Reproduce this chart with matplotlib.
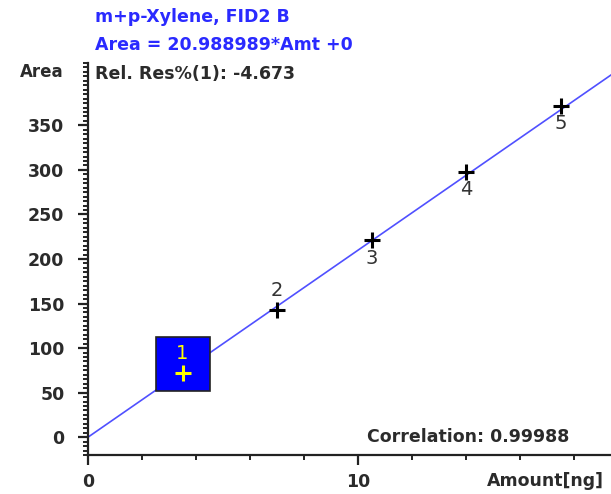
import matplotlib.pyplot as plt
from matplotlib.patches import Rectangle
from matplotlib.ticker import MultipleLocator

# calibration levels for m+p-Xylene
level = ["1", "2", "3", "4", "5"]
amount = [3.5, 7.0, 10.5, 14.0, 17.5]
area = [72.0, 143.0, 221.0, 298.0, 372.0]
slope = 20.988989
intercept = 0.0

compound = "m+p-Xylene, FID2 B"
rel_res = -4.673
correlation = 0.99988

txt = "#2b2b2b"
blue = "#2a2aff"
plt.rcParams["font.family"] = ["DejaVu Sans"]

fig = plt.figure(figsize=(6.11, 4.94), dpi=100)
ax = fig.add_axes([88 / 611, 1 - 455 / 494, 1 - 88 / 611, (455 - 63) / 494])
ax.set_xlim(0, 19.37)
ax.set_ylim(-20, 420)

# fitted line across the full x range
x0, x1 = ax.get_xlim()
ax.plot([x0, x1], [slope * x0 + intercept, slope * x1 + intercept],
        color="#5050ff", lw=1.2, zorder=2)

# selected level 1 highlighted with a blue box
sel = 0
ax.add_patch(Rectangle((amount[sel] - 1.0, area[sel] - 20), 2.0, 60,
                       facecolor="#0000ff", edgecolor="#222222", lw=1.2, zorder=3))

for i, (x, y) in enumerate(zip(amount, area)):
    col = "#ffff00" if i == sel else "black"
    ax.plot(x, y, marker="+", ms=12, mew=2.2, color=col, zorder=4)
    if i < 2:
        ax.annotate(level[i], (x, y), xytext=(0, 7), textcoords="offset points",
                    ha="center", va="bottom", fontsize=14, color=col if i == sel else "#333333", zorder=5)
    else:
        ax.annotate(level[i], (x, y), xytext=(0, -6), textcoords="offset points",
                    ha="center", va="top", fontsize=14, color="#333333", zorder=5)

for s in ["top", "right"]:
    ax.spines[s].set_visible(False)
for s in ["left", "bottom"]:
    ax.spines[s].set_linewidth(1.6)
    ax.spines[s].set_color("#222222")

ax.xaxis.set_major_locator(MultipleLocator(10))
ax.xaxis.set_minor_locator(MultipleLocator(2))
ax.yaxis.set_major_locator(MultipleLocator(50))
ax.yaxis.set_minor_locator(MultipleLocator(5))
ax.set_yticks(range(0, 351, 50))
ax.tick_params(which="major", length=7, width=1.6, color="#222222",
               labelsize=12.5, labelcolor=txt)
ax.tick_params(axis="y", which="major", pad=10)
ax.tick_params(axis="x", which="major", pad=6)
ax.tick_params(which="minor", length=3.5, width=1.4, color="#222222")
for lab in ax.get_xticklabels() + ax.get_yticklabels():
    lab.set_fontweight("bold")

fig.text(20 / 611, 1 - 72 / 494, "Area", fontsize=12, fontweight="bold",
         color=txt, va="center", ha="left")
fig.text(487 / 611, 1 - 481 / 494, "Amount[ng]", fontsize=12.5, fontweight="bold",
         color=txt, va="center", ha="left")

fig.text(95 / 611, 1 - 17 / 494, compound, fontsize=12.5, fontweight="bold",
         color=blue, va="center", ha="left")
fig.text(95 / 611, 1 - 45 / 494, f"Area = {slope:.6f}*Amt +{intercept:g}", fontsize=12.5,
         fontweight="bold", color=blue, va="center", ha="left")
fig.text(95 / 611, 1 - 74 / 494, f"Rel. Res%(1): {rel_res:.3f}", fontsize=12.5,
         fontweight="bold", color=txt, va="center", ha="left")
fig.text(367 / 611, 1 - 437 / 494, f"Correlation: {correlation:.5f}", fontsize=12.5,
         fontweight="bold", color=txt, va="center", ha="left")

fig.savefig("out.png", dpi=100)
